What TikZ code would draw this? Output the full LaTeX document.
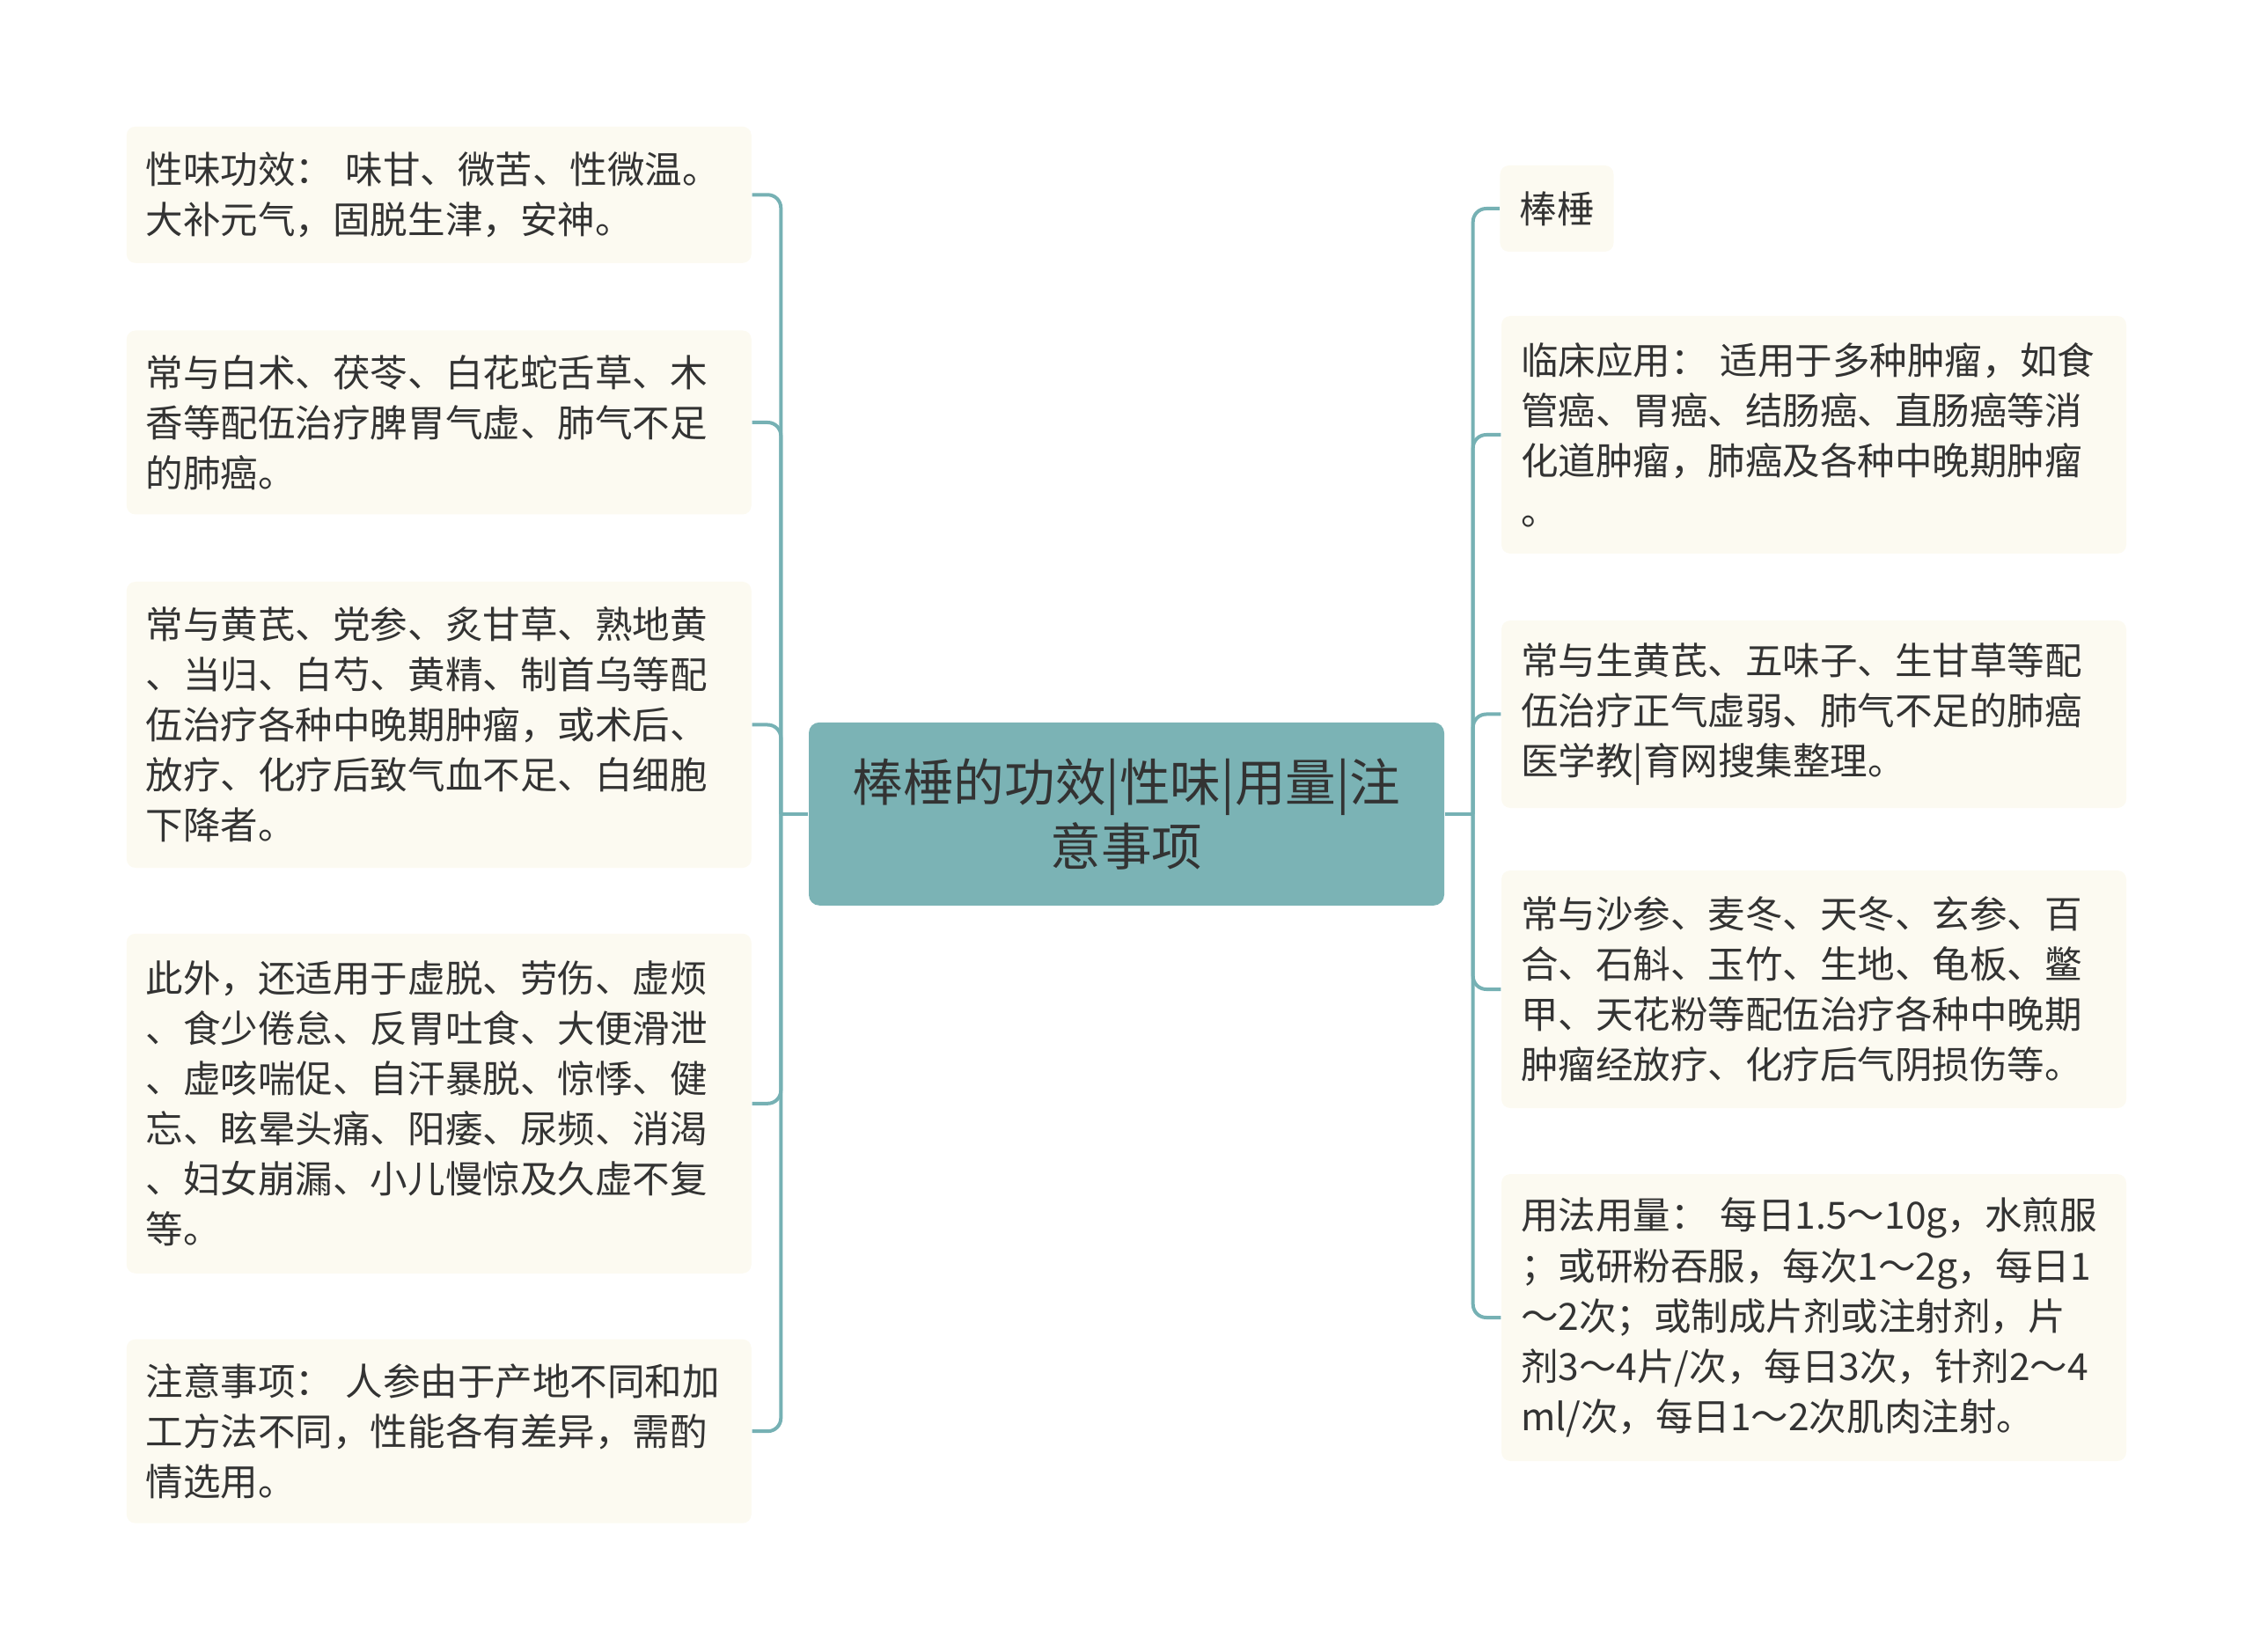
\documentclass[tikz,border=0pt]{standalone}
\usepackage{fontspec}
\setmainfont{Noto Sans CJK SC}
\usetikzlibrary{calc}
\definecolor{topicfill}{HTML}{7BB3B5}
\definecolor{branchline}{HTML}{76B1B4}
\definecolor{leaffill}{HTML}{FCFAF1}
\definecolor{ink}{HTML}{333333}
\tikzstyle{leaf}=[fill=leaffill,rounded corners=0.1cm,text=ink,align=left,inner xsep=0.22cm,inner ysep=0pt,font=\fontsize{12.1pt}{16.25pt}\selectfont]
\tikzstyle{longleaf}=[leaf,text width=6.66cm]
\tikzstyle{topic}=[fill=topicfill,rounded corners=0.12cm,text=ink,align=center,minimum width=7.22cm,minimum height=2.08cm,font=\fontsize{16.4pt}{20.9pt}\selectfont]
\tikzstyle{branch}=[draw=branchline,line width=0.04cm,rounded corners=0.15cm]

\begin{document}
\begin{tikzpicture}
  \useasboundingbox (0,0) rectangle (25.6,-18.77);
  \node[topic] (c) at (12.80,-9.248) {棒棰的功效|性味|用量|注\\意事项};

  % left side
  \node[longleaf,minimum height=1.55cm] (l1) at (4.988,-2.213)
    {性味功效：~味甘、微苦、性微温。\\大补元气，固脱生津，安神。};
  \node[longleaf,minimum height=2.09cm] (l2) at (4.988,-4.80)
    {常与白术、茯苓、白花蛇舌草、木\\香等配伍治疗脾胃气虚、肺气不足\\的肺癌。};
  \node[longleaf,minimum height=3.25cm] (l3) at (4.988,-8.235)
    {常与黄芪、党参、炙甘草、熟地黄\\、当归、白芍、黄精、制首乌等配\\伍治疗各种中晚期肿瘤，或术后、\\放疗、化疗后致气血不足、白细胞\\下降者。};
  \node[longleaf,minimum height=3.86cm] (l4) at (4.988,-12.538)
    {此外，还适用于虚脱、劳伤、虚烦\\、食少倦怠、反胃吐食、大便滑泄\\、虚咳喘促、自汗暴脱、惊悸、健\\忘、眩晕头痛、阳痿、尿频、消渴\\、妇女崩漏、小儿慢惊及久虚不复\\等。};
  \node[longleaf,minimum height=2.09cm] (l5) at (4.988,-16.262)
    {注意事项：~人参由于产地不同和加\\工方法不同，性能各有差异，需酌\\情选用。};

  % right side
  \node[leaf,minimum height=0.98cm] (r1) at (17.69,-2.37) {棒棰};
  \node[longleaf,minimum height=2.70cm] (r2) at (20.61,-4.94)
    {临床应用：~适用于多种肿瘤，如食\\管癌、胃癌、结肠癌、直肠癌等消\\化道肿瘤，肺癌及各种中晚期肿瘤\\。};
  \node[longleaf,minimum height=2.13cm] (r3) at (20.61,-8.115)
    {常与生黄芪、五味子、生甘草等配\\伍治疗正气虚弱、肺气不足的肺癌\\医学教|育网搜集整理。};
  \node[longleaf,minimum height=2.70cm] (r4) at (20.61,-11.24)
    {常与沙参、麦冬、天冬、玄参、百\\合、石斛、玉竹、生地、龟板、鳖\\甲、天花粉等配伍治疗各种中晚期\\肿瘤经放疗、化疗后气阴损伤等。};
  \node[longleaf,minimum height=3.26cm] (r5) at (20.61,-14.97)
    {用法用量：~每日1.5～10g，水煎服\\；或研粉吞服，每次1～2g，每日1\\～2次；或制成片剂或注射剂，片\\剂3～4片/次，每日3次，针剂2～4\\ml/次，每日1～2次肌肉注射。};

  \coordinate (lj) at ($(c.west)+(-0.31,0)$);
  \coordinate (rj) at ($(c.east)+(0.32,0)$);
  \draw[branch] (c.west) -- (lj);
  \draw[branch] (c.east) -- (rj);
  \foreach \n in {l1,l2,l3,l4,l5}
    \draw[branch] (lj) |- (\n.east);
  \foreach \n in {r1,r2,r3,r4,r5}
    \draw[branch] (rj) |- (\n.west);
\end{tikzpicture}
\end{document}
